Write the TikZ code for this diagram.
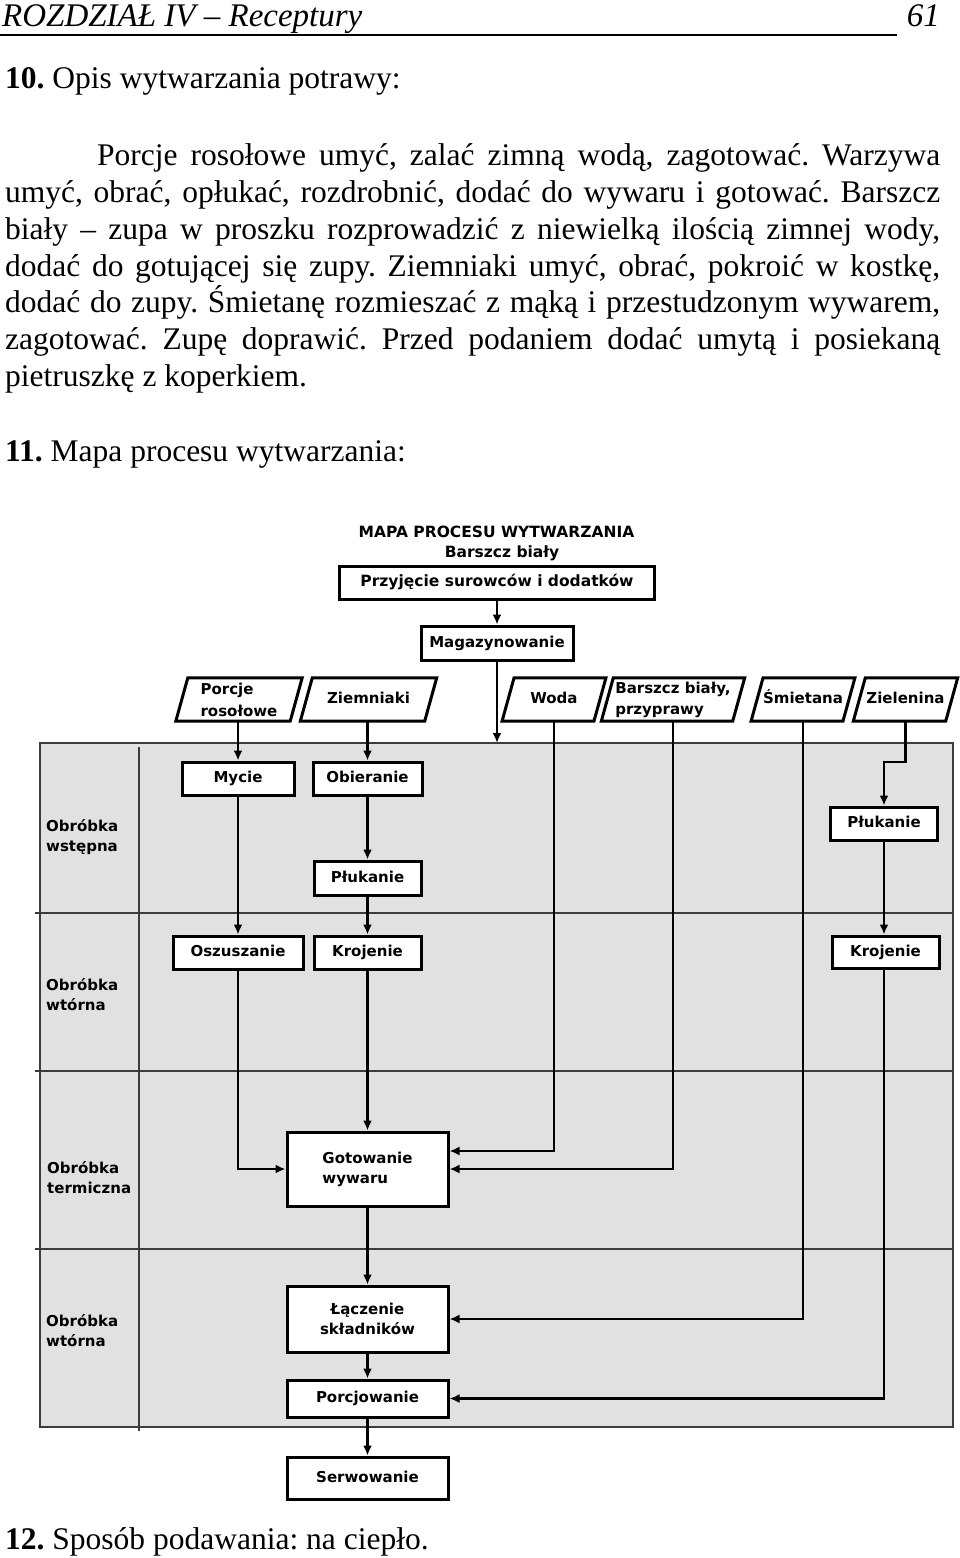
\documentclass[tikz,border=0pt]{standalone}
\usepackage{fontspec}
\setmainfont{Liberation Serif}
\newfontfamily\dv{DejaVu Sans}
\usetikzlibrary{arrows.meta}
\definecolor{lanegray}{RGB}{225,225,225}
\definecolor{edgegray}{RGB}{60,60,60}
\newcommand\dfont{\dv\bfseries\fontsize{15}{20}\selectfont}
\newcommand\drawpara[1]{\draw[parab] ([xshift=-6pt]#1.south west) -- ([xshift=6pt]#1.north west) -- ([xshift=6pt]#1.north east) -- ([xshift=-6pt]#1.south east) -- cycle;}
\frenchspacing
\begin{document}
\begin{tikzpicture}[x=1pt,y=-1pt,
  body/.style={anchor=base west, inner sep=0pt, font=\fontsize{31.5}{37}\selectfont},
  box/.style={draw=black, line width=3pt, fill=white, inner sep=0pt, font=\dfont, align=center},
  one/.style={text height=11pt, text depth=3pt},
  para/.style={inner sep=0pt, font=\dfont, align=center},
  parab/.style={draw=black, line width=3pt, line join=miter},
  lanelbl/.style={anchor=west, inner sep=0pt, font=\dfont, align=left},
  laneline/.style={draw=edgegray, line width=1.4pt},
  arr/.style={draw=black, line width=2.5pt, -{Latex[length=10pt,width=9pt]}}]
\useasboundingbox (0,0) rectangle (960,1558);
\fill[white] (0,0) rectangle (960,1558);

% header
\node[anchor=base west, inner sep=0pt, font=\itshape\fontsize{33}{37}\selectfont] (hdr) at (2,26) {ROZDZIAŁ IV – Receptury};
\node[anchor=base east, inner sep=0pt, font=\itshape\fontsize{33}{37}\selectfont] (pg) at (940,26) {61};
\draw[line width=1.4pt] (0,35) -- (897,35);

% text
\node[body] (t10) at (5,88) {\textbf{10.} Opis wytwarzania potrawy:};
\node[body] (l1) at (97,165) {\makebox[843pt][s]{Porcje rosołowe umyć, zalać zimną wodą, zagotować. Warzywa}};
\node[body] (l2) at (5,202) {\makebox[935pt][s]{umyć, obrać, opłukać, rozdrobnić, dodać do wywaru i gotować. Barszcz}};
\node[body] (l3) at (5,239) {\makebox[935pt][s]{biały – zupa w proszku rozprowadzić z niewielką ilością zimnej wody,}};
\node[body] (l4) at (5,276) {\makebox[935pt][s]{dodać do gotującej się zupy. Ziemniaki umyć, obrać, pokroić w kostkę,}};
\node[body] (l5) at (5,312) {\makebox[935pt][s]{dodać do zupy. Śmietanę rozmieszać z mąką i przestudzonym wywarem,}};
\node[body] (l6) at (5,349) {\makebox[935pt][s]{zagotować. Zupę doprawić. Przed podaniem dodać umytą i posiekaną}};
\node[body] (l7) at (5,386) {pietruszkę z koperkiem.};
\node[body] (t11) at (5,461) {\textbf{11.} Mapa procesu wytwarzania:};
\node[body] (t12) at (5,1549) {\textbf{12.} Sposób podawania: na ciepło.};

% lanes
\filldraw[fill=lanegray, draw=edgegray, line width=1.8pt] (40,743) rectangle (953,1427);
\draw[laneline] (35,913) -- (953,913);
\draw[laneline] (35,1071) -- (953,1071);
\draw[laneline] (35,1249) -- (953,1249);
\draw[laneline] (139,747) -- (139,1431);
\node[lanelbl] (lab1) at (46,837) {Obróbka\\wstępna};
\node[lanelbl] (lab2) at (46,994.5) {Obróbka\\wtórna};
\node[lanelbl] (lab3) at (47,1178) {Obróbka\\termiczna};
\node[lanelbl] (lab4) at (46,1331) {Obróbka\\wtórna};

% title
\node[inner sep=0pt, anchor=base, font=\dv\bfseries\fontsize{15.5}{20}\selectfont] (title1) at (496.5,537) {MAPA PROCESU WYTWARZANIA};
\node[inner sep=0pt, anchor=base, font=\dv\bfseries\fontsize{15.5}{20}\selectfont] (title2) at (502,557) {Barszcz biały};

% boxes
\node[box, one, minimum width=315pt, minimum height=33pt, font=\dv\bfseries\fontsize{15.5}{20}\selectfont] (przyj) at (497,582.5) {Przyjęcie surowców i dodatków};
\node[box, one, minimum width=152pt, minimum height=34pt] (magazyn) at (497,643) {Magazynowanie};
\node[box, one, minimum width=112pt, minimum height=33pt] (mycie) at (238,778.5) {Mycie};
\node[box, one, minimum width=109pt, minimum height=33pt] (obier) at (367.5,778.5) {Obieranie};
\node[box, one, minimum width=107pt, minimum height=34pt] (pluk1) at (367.5,878) {Płukanie};
\node[box, one, minimum width=130pt, minimum height=33pt] (oszu) at (238,952.5) {Oszuszanie};
\node[box, one, minimum width=107pt, minimum height=33pt] (kroj1) at (367.5,952.5) {Krojenie};
\node[box, one, minimum width=107pt, minimum height=33pt] (pluk2) at (884,823.5) {Płukanie};
\node[box, one, minimum width=107pt, minimum height=32pt] (kroj2) at (885.5,952) {Krojenie};
\node[box, minimum width=161pt, minimum height=74pt, align=left] (gotow) at (367.5,1169) {Gotowanie\\wywaru};
\node[box, minimum width=161pt, minimum height=66pt] (lacz) at (367.5,1319) {Łączenie\\składników};
\node[box, one, minimum width=161pt, minimum height=37pt] (porcj) at (367.5,1398.5) {Porcjowanie};
\node[box, one, minimum width=161pt, minimum height=42pt] (serw) at (367.5,1478) {Serwowanie};

% parallelograms
\node[para, minimum width=114pt, minimum height=43pt, align=left, font=\dv\bfseries\fontsize{15}{22}\selectfont] (porcje) at (239,699.5) {Porcje\\rosołowe};
\node[para, one, minimum width=124pt, minimum height=43pt] (ziem) at (368.5,699.5) {Ziemniaki};
\node[para, one, minimum width=91.5pt, minimum height=43pt] (woda) at (554,699.5) {Woda};
\node[para, minimum width=131pt, minimum height=43pt, align=left, font=\dv\bfseries\fontsize{15}{21}\selectfont] (barsz) at (673,699.5) {Barszcz biały,\\przyprawy};
\node[para, one, minimum width=91.5pt, minimum height=43pt] (smiet) at (803,699.5) {Śmietana};
\node[para, one, minimum width=92pt, minimum height=43pt] (ziel) at (905.5,699.5) {Zielenina};
\drawpara{porcje}
\drawpara{ziem}
\drawpara{woda}
\drawpara{barsz}
\drawpara{smiet}
\drawpara{ziel}

% connectors
\coordinate (magend) at (497,743);
\draw[arr] (przyj) -- (magazyn);
\draw[arr] (magazyn) -- (magend);
\draw[arr] (porcje.south -| mycie.north) -- (mycie.north);
\draw[arr] (ziem.south -| obier.north) -- (obier.north);
\draw[arr] (mycie) -- (oszu);
\draw[arr] (obier) -- (pluk1);
\draw[arr] (pluk1) -- (kroj1);
\draw[arr] (oszu.south) |- (gotow.west);
\draw[arr] (kroj1) -- (gotow);
\draw[arr] (woda.south) |- ([yshift=18pt]gotow.east);
\draw[arr] (barsz.south) |- (gotow.east);
\draw[arr] (gotow) -- (lacz);
\draw[arr] (smiet.south) |- (lacz.east);
\draw[arr] (lacz) -- (porcj);
\draw[arr] (ziel.south) -- ++(0,41) -| (pluk2.north);
\draw[arr] (pluk2.south) -- (pluk2.south |- kroj2.north);
\draw[arr] (kroj2.south -| pluk2.south) |- (porcj.east);
\draw[arr] (porcj) -- (serw);
\end{tikzpicture}
\end{document}
